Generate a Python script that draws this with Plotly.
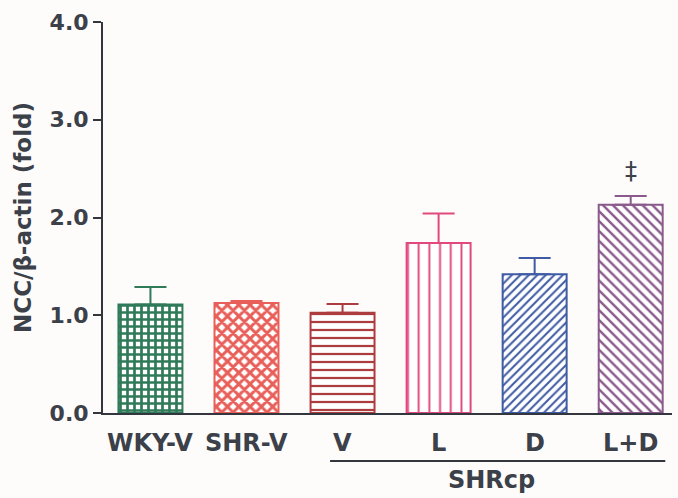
import plotly.graph_objects as go

# Groups along the x axis and their NCC/beta-actin expression (fold, mean + SEM)
groups = ["WKY-V", "SHR-V", "V", "L", "D", "L+D"]
means = [1.11, 1.125, 1.025, 1.74, 1.42, 2.13]
sems = [0.18, 0.02, 0.09, 0.30, 0.165, 0.09]
y_ticks = [0, 1, 2, 3, 4]
bracket_label = "SHRcp"
bracket_groups = ["V", "L", "D", "L+D"]
marked_group = "L+D"
mark_symbol = "\u2021"

# Per-bar styling
colors = ["#2f7a58", "#e85e58", "#ad3c3e", "#e0487e", "#3f5ba3", "#8a5a8c"]
shapes = ["+", "x", "-", "|", "/", "\\"]
pat_size = [7, 8, 8, 10.7, 6, 7]
pat_solid = [0.62, 0.6, 0.28, 0.18, 0.34, 0.34]

TEXT = "#3b4049"
AXIS = "#33373d"
FONT = "DejaVu Sans"

W, H = 678, 498
ML, MR, MT, MB = 103, 6, 22, 85
plot_h = H - MT - MB


def paper_y(px):
    return (H - MB - px) / plot_h


fig = go.Figure()
for i, g in enumerate(groups):
    fig.add_trace(go.Bar(
        x=[i], y=[means[i]], width=0.666,
        marker=dict(
            color="white",
            line=dict(color=colors[i], width=2),
            pattern=dict(shape=shapes[i], fgcolor=colors[i], bgcolor="white",
                         size=pat_size[i], solidity=pat_solid[i], fillmode="replace"),
        ),
        error_y=dict(type="data", symmetric=False, array=[sems[i]], arrayminus=[0],
                     color=colors[i], thickness=2, width=16),
        showlegend=False, hoverinfo="skip",
    ))

annotations = []
# Category labels under the axis
for i, g in enumerate(groups):
    annotations.append(dict(
        x=i, y=paper_y(443), xref="x", yref="paper", text=g, showarrow=False,
        xanchor="center", yanchor="middle",
        font=dict(family=FONT, size=24, color=TEXT, weight="bold"),
    ))

# Bracket under the SHRcp groups
b0 = groups.index(bracket_groups[0])
b1 = groups.index(bracket_groups[-1])
fig.add_shape(type="line", xref="x", yref="paper",
              x0=b0 - 0.13, x1=b1 + 0.36, y0=paper_y(461), y1=paper_y(461),
              line=dict(color=AXIS, width=2))
annotations.append(dict(
    x=(b0 + b1) / 2 + 0.05, y=paper_y(480), xref="x", yref="paper", text=bracket_label,
    showarrow=False, xanchor="center", yanchor="middle",
    font=dict(family=FONT, size=24, color=TEXT, weight="bold"),
))

# Significance mark above the combined-treatment bar
mi = groups.index(marked_group)
annotations.append(dict(
    x=mi, y=means[mi] + sems[mi], xref="x", yref="y", text=mark_symbol,
    showarrow=False, xanchor="center", yanchor="bottom", yshift=9,
    font=dict(family=FONT, size=24, color=TEXT),
))

# Y axis title
annotations.append(dict(
    x=(22.5 - ML) / (W - ML - MR), y=0.5, xref="paper", yref="paper",
    text="NCC/\u03b2-actin (fold)", textangle=-90, showarrow=False,
    xanchor="center", yanchor="middle",
    font=dict(family=FONT, size=23, color=TEXT, weight="bold"),
))

fig.update_layout(
    width=W, height=H, autosize=False,
    margin=dict(l=ML, r=MR, t=MT, b=MB, pad=0),
    paper_bgcolor="#fdfcfa", plot_bgcolor="#fdfcfa",
    barmode="overlay",
    annotations=annotations,
    xaxis=dict(range=[-0.494, 5.43], showgrid=False, zeroline=False,
               showline=True, linecolor=AXIS, linewidth=2,
               showticklabels=False, ticks=""),
    yaxis=dict(range=[0, 4], tickvals=y_ticks, tickformat=".1f",
               showgrid=False, zeroline=False,
               showline=True, linecolor=AXIS, linewidth=2,
               ticks="outside", ticklen=8, tickwidth=2, tickcolor=AXIS,
               tickfont=dict(family=FONT, size=22, color=TEXT, weight="bold")),
)

fig.write_html("out.html")
